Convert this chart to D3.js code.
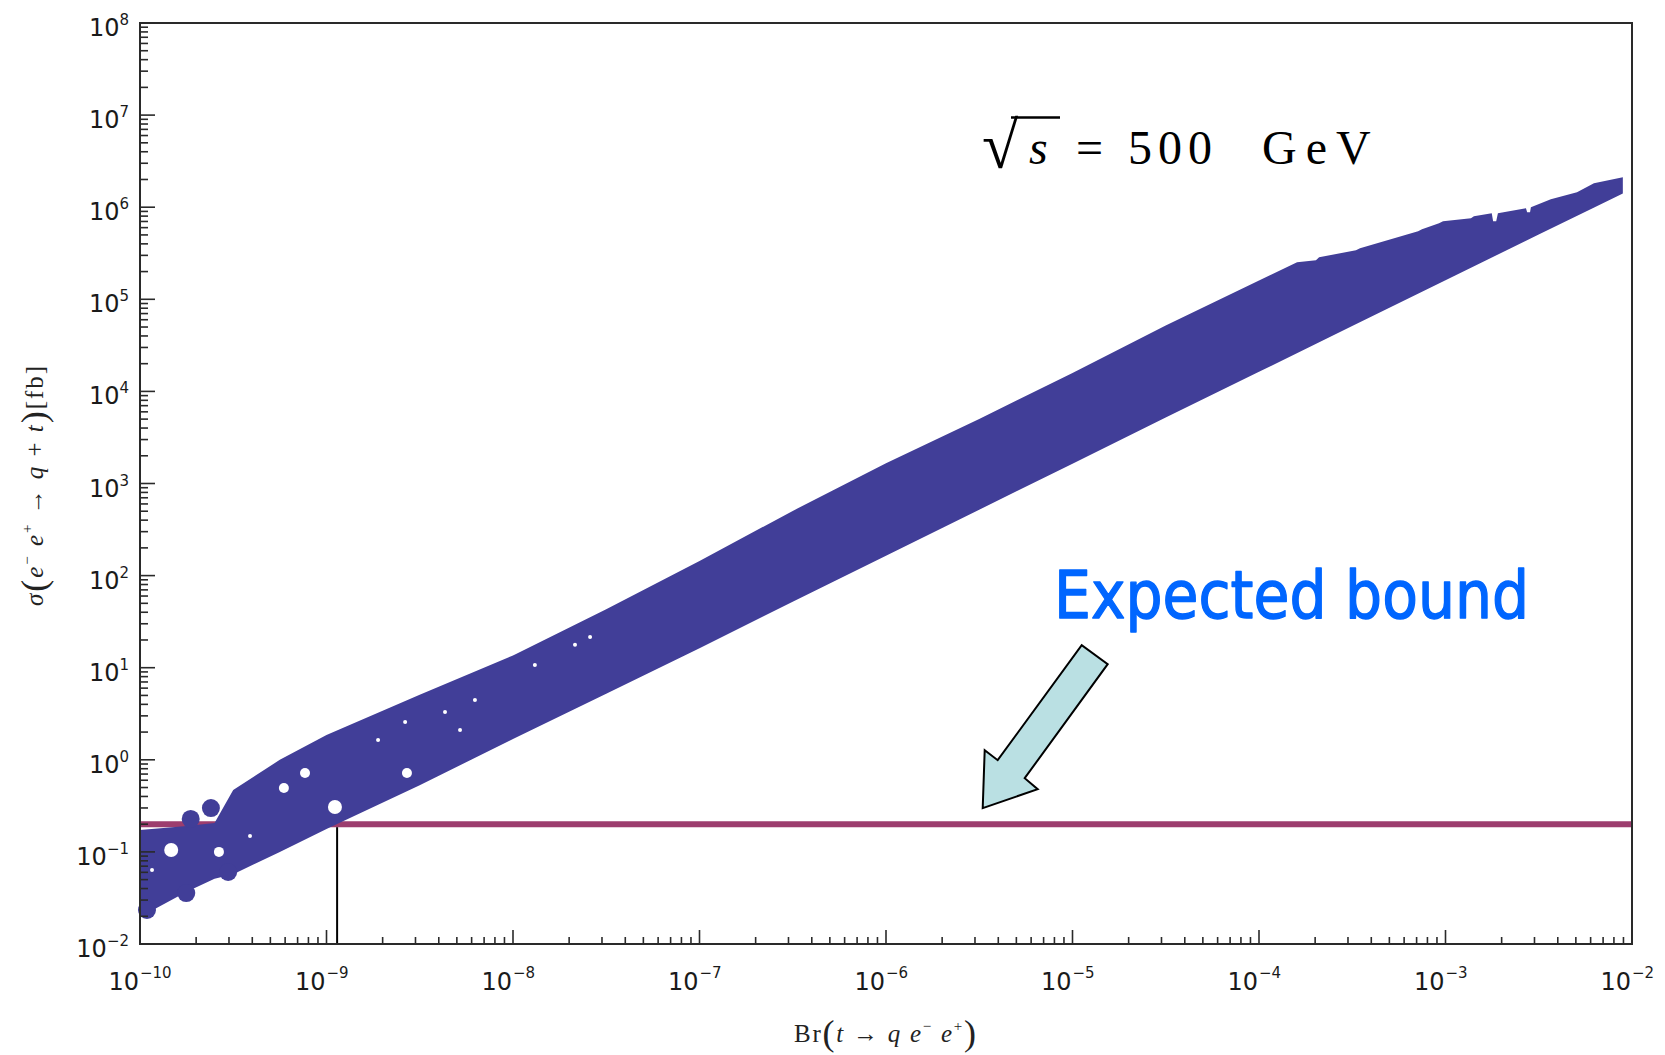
<!DOCTYPE html>
<html>
<head>
<meta charset="utf-8">
<script src="https://cdn.jsdelivr.net/npm/d3@7"></script>
<style>
  body { margin: 0; background: #fff; }
  svg { display: block; }
</style>
</head>
<body>
<svg id="chart" width="1665" height="1055"></svg>
<script>
// ---- Scan envelope: upper and lower edge of the allowed (Br, sigma) region ----
const upperBr    = [1e-10, 1.78e-10, 2.51e-10, 3.16e-10, 5.62e-10, 1e-9, 3.16e-9, 1e-8, 3.16e-8, 1e-7, 3.16e-7, 1e-6, 3.16e-6, 1e-5, 3.16e-5, 1e-4,
                    1.60e-4, 2.02e-4, 2.10e-4, 3.31e-4, 3.48e-4, 7.13e-4, 7.48e-4, 9.23e-4, 9.70e-4, 1.37e-3, 1.42e-3, 1.77e-3, 1.80e-3, 1.87e-3,
                    1.91e-3, 2.70e-3, 2.74e-3, 2.84e-3, 2.87e-3, 3.67e-3, 5.07e-3, 6.25e-3, 8.93e-3];
const upperSigma = [0.173, 0.191, 0.206, 0.47, 1.0, 1.86, 5.1, 13.6, 43, 144, 504, 1660, 5030, 15850, 52100, 1.6e5,
                    2.53e5, 2.66e5, 2.86e5, 3.41e5, 3.59e5, 5.48e5, 5.77e5, 6.70e5, 7.05e5, 7.59e5, 7.98e5, 8.59e5, 7.05e5, 7.05e5,
                    8.59e5, 9.75e5, 8.82e5, 8.82e5, 1.0e6, 1.22e6, 1.45e6, 1.82e6, 2.11e6];
const lowerBr    = [1e-10, 1.78e-10, 2.51e-10, 3.16e-10, 5.62e-10, 1e-9, 3.16e-9, 1e-8, 3.16e-8, 1e-7, 3.16e-7, 1e-6, 3.16e-6, 1e-5, 3.16e-5, 1e-4, 3.16e-4, 1e-3, 3.16e-3, 6.31e-3, 8.93e-3];
const lowerSigma = [0.0196, 0.037, 0.051, 0.0573, 0.10, 0.177, 0.53, 1.68, 5.2, 16.3, 52, 164, 520, 1640, 5210, 16300, 51300, 1.61e5, 5.05e5, 1.0e6, 1.41e6];

// Isolated clusters of scan points below 1e-9
const clusterBr    = [2.40e-10, 1.87e-10, 1.77e-10, 2.97e-10, 1.09e-10];
const clusterSigma = [0.299, 0.228, 0.0357, 0.0605, 0.0234];

// Empty pockets inside the scanned region (wide, medium, narrow)
const wideGapBr      = [1.47e-10, 1.11e-9];
const wideGapSigma   = [0.105, 0.307];
const midGapBr       = [5.91e-10, 7.67e-10, 2.70e-9, 2.65e-10];
const midGapSigma    = [0.493, 0.718, 0.718, 0.10];
const narrowGapBr    = [1.89e-9, 2.64e-9, 3.89e-10, 1.16e-10, 2.59e-8, 2.15e-8, 1.31e-8, 6.25e-9, 4.32e-9, 5.2e-9];
const narrowGapSigma = [1.64, 2.57, 0.149, 0.0635, 21.5, 17.8, 10.7, 4.45, 3.30, 2.10];

// Expected bound on the cross section and the Br it translates to
const boundSigma = 0.2;
const boundBr = 1.14e-9;

// Axis decades
const xDecades = [-10, -9, -8, -7, -6, -5, -4, -3, -2];
const yDecades = [-2, -1, 0, 1, 2, 3, 4, 5, 6, 7, 8];

// ---- Layout ----
const plot = { left: 140, right: 1632, top: 23, bottom: 944 };
const BAND = '#413e98';
const BOUND = '#9c3d6e';

const svg = d3.select('#chart');
const x = d3.scaleLog().domain([1e-10, 1e-2]).range([plot.left, plot.right]);
const y = d3.scaleLog().domain([1e-2, 1e8]).range([plot.bottom, plot.top]);

// Bound line
svg.append('line')
  .attr('x1', plot.left).attr('x2', plot.right)
  .attr('y1', y(boundSigma)).attr('y2', y(boundSigma))
  .attr('stroke', BOUND).attr('stroke-width', 6);

// Scan region
const outline = upperBr.map((b, i) => [x(b), y(upperSigma[i])])
  .concat(lowerBr.map((b, i) => [x(b), y(lowerSigma[i])]).reverse());
svg.append('path')
  .attr('d', d3.line()(outline) + 'Z')
  .attr('fill', BAND);

svg.append('g').selectAll('circle')
  .data(d3.zip(clusterBr, clusterSigma))
  .join('circle')
  .attr('cx', d => x(d[0])).attr('cy', d => y(d[1]))
  .attr('r', 9).attr('fill', BAND);

function gaps(brs, sigmas, r) {
  svg.append('g').selectAll('circle')
    .data(d3.zip(brs, sigmas))
    .join('circle')
    .attr('cx', d => x(d[0])).attr('cy', d => y(d[1]))
    .attr('r', r).attr('fill', '#fff');
}
gaps(wideGapBr, wideGapSigma, 7);
gaps(midGapBr, midGapSigma, 5);
gaps(narrowGapBr, narrowGapSigma, 2);

// Drop line from the bound to the Br axis
svg.append('line')
  .attr('x1', x(boundBr)).attr('x2', x(boundBr))
  .attr('y1', y(boundSigma) + 3).attr('y2', plot.bottom)
  .attr('stroke', '#000').attr('stroke-width', 2);

// ---- Frame and ticks ----
const axisColor = '#2a2a2a';
svg.append('path')
  .attr('d', `M${plot.left},${plot.top}H${plot.right}V${plot.bottom}H${plot.left}Z`)
  .attr('fill', 'none').attr('stroke', axisColor).attr('stroke-width', 2);

const ticks = svg.append('g').attr('stroke', axisColor).attr('stroke-width', 1.6);
xDecades.forEach((e, i) => {
  ticks.append('line')
    .attr('x1', x(10 ** e)).attr('x2', x(10 ** e))
    .attr('y1', plot.bottom).attr('y2', plot.bottom - 14);
  if (i < xDecades.length - 1) {
    d3.range(2, 10).forEach(k => {
      ticks.append('line')
        .attr('x1', x(k * 10 ** e)).attr('x2', x(k * 10 ** e))
        .attr('y1', plot.bottom).attr('y2', plot.bottom - 7);
    });
  }
});
yDecades.forEach((e, i) => {
  ticks.append('line')
    .attr('y1', y(10 ** e)).attr('y2', y(10 ** e))
    .attr('x1', plot.left).attr('x2', plot.left + 15);
  if (i < yDecades.length - 1) {
    d3.range(2, 10).forEach(k => {
      ticks.append('line')
        .attr('y1', y(k * 10 ** e)).attr('y2', y(k * 10 ** e))
        .attr('x1', plot.left).attr('x2', plot.left + 8);
    });
  }
});

// ---- Tick labels ----
const labelFont = "'DejaVu Sans', sans-serif";
const fmtExp = e => (e < 0 ? '\u2212' + (-e) : String(e));

xDecades.forEach(e => {
  const tx = x(10 ** e);
  svg.append('text')
    .attr('x', tx - 1).attr('y', 990)
    .attr('text-anchor', 'end')
    .attr('font-family', labelFont).attr('font-size', 24).attr('fill', '#1a1a1a')
    .text('10');
  svg.append('text')
    .attr('x', tx).attr('y', 978)
    .attr('font-family', labelFont).attr('font-size', 15).attr('fill', '#1a1a1a')
    .text(fmtExp(e));
});

yDecades.forEach(e => {
  const t = svg.append('text')
    .attr('x', 129).attr('y', y(10 ** e) + 13)
    .attr('text-anchor', 'end')
    .attr('font-family', labelFont).attr('fill', '#1a1a1a');
  t.append('tspan').attr('font-size', 24).text('10');
  t.append('tspan').attr('font-size', 15).attr('dy', -11).text(fmtExp(e));
});

// ---- Axis titles ----
const serif = "'Liberation Serif', 'DejaVu Serif', serif";

const xt = svg.append('text')
  .attr('x', 794).attr('y', 1042)
  .attr('font-family', serif).attr('font-size', 25).attr('fill', '#222')
  .attr('textLength', 182).attr('lengthAdjust', 'spacing');
xt.append('tspan').text('Br');
xt.append('tspan').attr('font-size', 36).attr('dy', 3).text('(');
xt.append('tspan').attr('font-style', 'italic').attr('dy', -3).text('t');
xt.append('tspan').text(' \u2192 ');
xt.append('tspan').attr('font-style', 'italic').text('q e');
xt.append('tspan').attr('font-size', 15).attr('dy', -11).text('\u2212');
xt.append('tspan').attr('font-style', 'italic').attr('dy', 11).text(' e');
xt.append('tspan').attr('font-size', 15).attr('dy', -11).text('+');
xt.append('tspan').attr('font-size', 36).attr('dy', 14).text(')');

const yt = svg.append('text')
  .attr('transform', 'translate(43,606) rotate(-90)')
  .attr('font-family', serif).attr('font-size', 25).attr('fill', '#222')
  .attr('textLength', 240).attr('lengthAdjust', 'spacing');
yt.append('tspan').attr('font-style', 'italic').text('\u03c3');
yt.append('tspan').attr('font-size', 36).attr('dy', 3).text('(');
yt.append('tspan').attr('font-style', 'italic').attr('dy', -3).text('e');
yt.append('tspan').attr('font-size', 15).attr('dy', -11).text('\u2212');
yt.append('tspan').attr('font-style', 'italic').attr('dy', 11).text(' e');
yt.append('tspan').attr('font-size', 15).attr('dy', -11).text('+');
yt.append('tspan').attr('dy', 11).text(' \u2192 ');
yt.append('tspan').attr('font-style', 'italic').text('q');
yt.append('tspan').text(' + ');
yt.append('tspan').attr('font-style', 'italic').text('t');
yt.append('tspan').attr('font-size', 36).attr('dy', 3).text(')');
yt.append('tspan').attr('dy', -3).text('[fb]');

// ---- Energy label ----
const eg = svg.append('g').attr('font-family', serif).attr('fill', '#000');
eg.append('text').attr('x', 982).attr('y', 168).attr('font-size', 66).text('\u221a');
eg.append('line').attr('x1', 1011).attr('x2', 1060).attr('y1', 117.5).attr('y2', 117.5)
  .attr('stroke', '#000').attr('stroke-width', 2.5);
eg.append('text').attr('x', 1029).attr('y', 164).attr('font-size', 48).attr('font-style', 'italic').text('s');
eg.append('text').attr('x', 1076).attr('y', 164).attr('font-size', 48).text('=');
eg.append('text').attr('x', 1128).attr('y', 164).attr('font-size', 48).attr('letter-spacing', 6).text('500');
eg.append('text').attr('x', 1262).attr('y', 164).attr('font-size', 48).attr('letter-spacing', 9).text('GeV');

// ---- Annotation ----
svg.append('text')
  .attr('x', 1054).attr('y', 618)
  .attr('font-family', "'DejaVu Sans', sans-serif").attr('font-size', 66)
  .attr('fill', '#0066ff').attr('stroke', '#0066ff').attr('stroke-width', 1.4)
  .attr('stroke-linejoin', 'round')
  .attr('textLength', 475).attr('lengthAdjust', 'spacingAndGlyphs')
  .text('Expected bound');

const tip = [x(3.3e-6), y(boundSigma) - 16];
const arrowShape = [[0, 0], [2, -58], [15, -48], [99, -163], [125, -144], [42, -30], [55, -19]];
svg.append('polygon')
  .attr('points', arrowShape.map(p => [tip[0] + p[0], tip[1] + p[1]].join(',')).join(' '))
  .attr('fill', '#bae0e3').attr('stroke', '#000').attr('stroke-width', 2)
  .attr('stroke-linejoin', 'miter');
</script>
</body>
</html>
